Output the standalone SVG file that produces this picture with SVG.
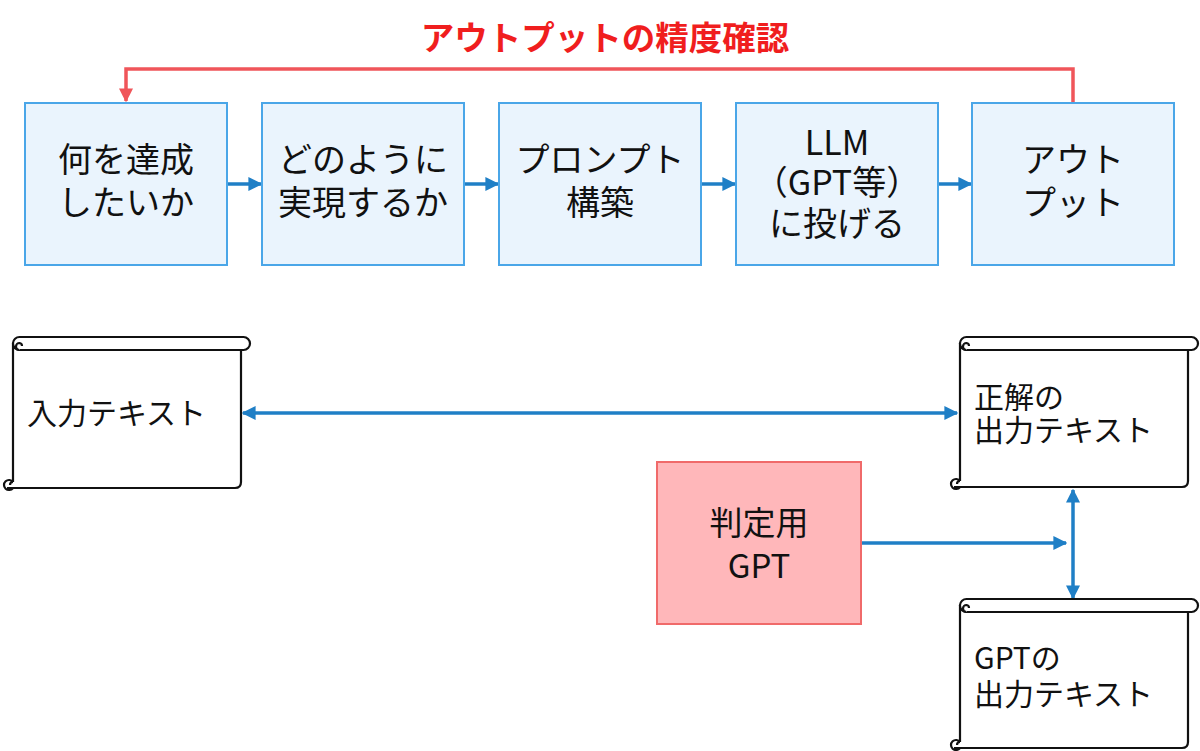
<svg xmlns="http://www.w3.org/2000/svg" width="1200" height="751" viewBox="0 0 1200 751">
<defs>
<style>
.t{font-family:"Noto Sans CJK JP","Noto Sans",sans-serif;fill:#111;}
.box{fill:#eaf4fd;stroke:#4aa6e8;stroke-width:2;}
.judge{fill:#ffb7ba;stroke:#f06a6a;stroke-width:2;}
.scroll{fill:#fff;stroke:#111;stroke-width:2.2;stroke-linejoin:round;}
.conn{fill:none;stroke:#1f7fc6;stroke-width:3.5;}
.red{fill:none;stroke:#f0555a;stroke-width:3.5;}
</style>
<marker id="ab" viewBox="0 0 10 10" refX="9" refY="5" markerWidth="4" markerHeight="4" orient="auto-start-reverse" markerUnits="strokeWidth"><path d="M0,0 L10,5 L0,10 z" fill="#1f7fc6"/></marker>
<marker id="ar" viewBox="0 0 10 10" refX="9" refY="5" markerWidth="4" markerHeight="4" orient="auto" markerUnits="strokeWidth"><path d="M0,0 L10,5 L0,10 z" fill="#f0555a"/></marker>
</defs>
<rect width="1200" height="751" fill="#fff"/>

<text x="605" y="50" text-anchor="middle" font-family="'Noto Sans CJK JP',sans-serif" font-weight="bold" font-size="33.5" fill="#f01e1e">アウトプットの精度確認</text>

<g id="connectors">
<path class="red" d="M1073,103 V69 H126 V101" marker-end="url(#ar)"/>
<line class="conn" x1="228" y1="184" x2="261" y2="184" marker-end="url(#ab)"/>
<line class="conn" x1="465" y1="184" x2="498" y2="184" marker-end="url(#ab)"/>
<line class="conn" x1="702" y1="184" x2="735" y2="184" marker-end="url(#ab)"/>
<line class="conn" x1="939" y1="184" x2="971" y2="184" marker-end="url(#ab)"/>
<line class="conn" x1="243" y1="413" x2="957" y2="413" marker-start="url(#ab)" marker-end="url(#ab)"/>
<line class="conn" x1="862" y1="543" x2="1066" y2="543" marker-end="url(#ab)"/>
<line class="conn" x1="1073" y1="490" x2="1073" y2="598" marker-start="url(#ab)" marker-end="url(#ab)"/>
</g>

<g id="n1"><rect class="box" x="25" y="103" width="202" height="162"/>
<text class="t" font-size="34" text-anchor="middle"><tspan x="126" y="172">何を達成</tspan><tspan x="126" y="215">したいか</tspan></text></g>
<g id="n2"><rect class="box" x="262" y="103" width="202" height="162"/>
<text class="t" font-size="34" text-anchor="middle"><tspan x="363" y="172">どのように</tspan><tspan x="363" y="215">実現するか</tspan></text></g>
<g id="n3"><rect class="box" x="499" y="103" width="202" height="162"/>
<text class="t" font-size="34" text-anchor="middle"><tspan x="600" y="172">プロンプト</tspan><tspan x="600" y="215">構築</tspan></text></g>
<g id="n4"><rect class="box" x="736" y="103" width="202" height="162"/>
<text class="t" font-size="34" text-anchor="middle"><tspan x="837" y="155">LLM</tspan><tspan x="837" y="195">（GPT等）</tspan><tspan x="837" y="236">に投げる</tspan></text></g>
<g id="n5"><rect class="box" x="972" y="103" width="202" height="162"/>
<text class="t" font-size="34" text-anchor="middle"><tspan x="1073" y="172">アウト</tspan><tspan x="1073" y="215">プット</tspan></text></g>

<g id="s1">
<path class="scroll" d="M13,343 V482 M7,488 H235 Q241,488 241,482 V350"/>
<path class="scroll" d="M13,343 A6.5,6.5 0 0 1 19.5,337 H243.5 A6.5,6.5 0 0 1 243.5,350 H19.5 A6.5,6.5 0 0 1 13,343 Z"/>
<path class="scroll" fill="none" d="M19.5,350 A3.5,3.5 0 0 1 19.5,343 A3,3 0 0 1 22,346"/>
<path class="scroll" d="M13,482 A5,5 0 1 0 13,488 H7 M13,482 A3,3 0 0 0 10,485"/>
<text class="t" x="27" y="424" font-size="30">入力テキスト</text>
</g>

<g id="s2">
<path class="scroll" d="M960,343 V481 M954,487 H1182 Q1188,487 1188,481 V350"/>
<path class="scroll" d="M960,343 A6.5,6.5 0 0 1 966.5,337 H1191.5 A6.5,6.5 0 0 1 1191.5,350 H966.5 A6.5,6.5 0 0 1 960,343 Z"/>
<path class="scroll" fill="none" d="M966.5,350 A3.5,3.5 0 0 1 966.5,343 A3,3 0 0 1 969,346"/>
<path class="scroll" d="M960,481 A5,5 0 1 0 960,487 H954 M960,481 A3,3 0 0 0 957,484"/>
<text class="t" font-size="30"><tspan x="974" y="408">正解の</tspan><tspan x="974" y="441">出力テキスト</tspan></text>
</g>

<g id="s3">
<path class="scroll" d="M960,605 V742 M954,748 H1182 Q1188,748 1188,742 V612"/>
<path class="scroll" d="M960,605 A6.5,6.5 0 0 1 966.5,599 H1191.5 A6.5,6.5 0 0 1 1191.5,612 H966.5 A6.5,6.5 0 0 1 960,605 Z"/>
<path class="scroll" fill="none" d="M966.5,612 A3.5,3.5 0 0 1 966.5,605 A3,3 0 0 1 969,608"/>
<path class="scroll" d="M960,742 A5,5 0 1 0 960,748 H954 M960,742 A3,3 0 0 0 957,745"/>
<text class="t" font-size="30"><tspan x="974" y="669">GPTの</tspan><tspan x="974" y="705">出力テキスト</tspan></text>
</g>

<g id="judge"><rect class="judge" x="657" y="462" width="204" height="162"/>
<text class="t" font-size="33" text-anchor="middle"><tspan x="759" y="535">判定用</tspan><tspan x="759" y="578">GPT</tspan></text></g>
</svg>
